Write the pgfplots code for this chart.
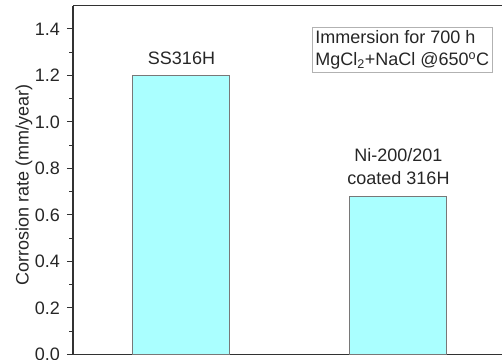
\documentclass[border=0pt]{standalone}
\usepackage{pgfplots}
\pgfplotsset{compat=1.18}
\usepackage{fontspec}
\setmainfont{Liberation Sans}
\definecolor{barfill}{RGB}{170,255,255}
\definecolor{bardraw}{RGB}{120,120,120}
\definecolor{axcol}{RGB}{50,50,50}
\begin{document}
\fontsize{18bp}{22bp}\selectfont
\begin{tikzpicture}
\begin{axis}[
  name=ax,
  scale only axis,
  width=429bp, height=348.8bp,
  xmin=0.5, xmax=2.477,
  ymin=0, ymax=1.5,
  axis lines*=left,
  axis line style={color=axcol, line width=1.3bp},
  xtick=\empty,
  ytick={0,0.2,...,1.4},
  minor y tick num=1,
  tick align=outside,
  major tick length=6bp,
  minor tick length=3.5bp,
  every tick/.style={color=axcol, line width=1bp},
  yticklabel style={/pgf/number format/fixed, /pgf/number format/fixed zerofill, /pgf/number format/precision=1, /pgf/number format/assume math mode=true, xshift=-1bp, text=black!85},
  ylabel={Corrosion rate (mm/year)},
  y label style={at={(axis description cs:-0.114,0.486)}, anchor=center, text=black!85},
  clip=false,
]
\addplot[ybar, bar width=97bp, fill=barfill, draw=bardraw, line width=1bp]
  coordinates {(1,1.198) (2,0.68)};
\draw[color=axcol, line width=1.3bp] (rel axis cs:0,1) -- (rel axis cs:1,1);
\node[anchor=base, text=black!85] at (axis cs:1,1.198) [yshift=11bp] {SS316H};
\node[anchor=base, text=black!85] at (axis cs:2,0.68) [yshift=11.5bp] {coated 316H};
\node[anchor=base, text=black!85] at (axis cs:2,0.68) [yshift=34.5bp] {Ni-200/201};
\node[draw=black!30, line width=0.8bp, anchor=north east, align=left, inner xsep=3bp, inner ysep=3bp, text=black!85]
  at (rel axis cs:0.978,0.938) {Immersion for 700 h\\MgCl\textsubscript{2}+NaCl @650\textsuperscript{o}C};
\end{axis}
\pgfresetboundingbox
\path ([xshift=-73bp,yshift=-5.5bp]ax.south west) rectangle ([yshift=5.7bp]ax.north east);
\end{tikzpicture}
\end{document}
